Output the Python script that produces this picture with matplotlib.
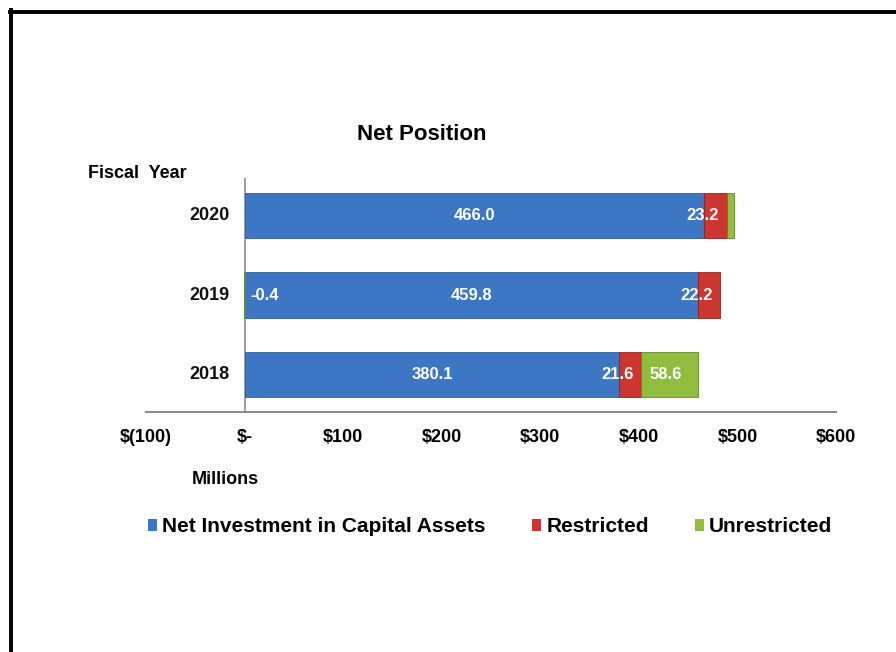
import matplotlib.pyplot as plt
from matplotlib.lines import Line2D
from matplotlib.patches import Patch

plt.rcParams['font.family'] = ['Liberation Sans', 'DejaVu Sans']
plt.rcParams['font.weight'] = 'bold'

years = ["2018", "2019", "2020"]
net_invest = [380.1, 459.8, 466.0]
restricted = [21.6, 22.2, 23.2]
unrestricted = [58.6, -0.4, 7.5]
unres_labels = ["58.6", "-0.4", ""]
xticks = [-100, 0, 100, 200, 300, 400, 500, 600]
xtick_labels = ["$(100)", "$-", "$100", "$200", "$300", "$400", "$500", "$600"]

blue = "#3D76C2"
red = "#CC3530"
green = "#8FBD3E"

fig = plt.figure(figsize=(8.96, 6.52), dpi=100)
ax = fig.add_axes([146/896, 240/652, 690/896, 234/652])

y = range(len(years))
h = 0.57
ax.barh(y, net_invest, height=h, color=blue, edgecolor="#2E5C9A", linewidth=0.6)
ax.barh(y, restricted, height=h, left=net_invest, color=red, edgecolor="#8E2220", linewidth=0.6)
left_u = [n + r if u > 0 else 0 for n, r, u in zip(net_invest, restricted, unrestricted)]
ax.barh(y, unrestricted, height=h, left=left_u, color=green, edgecolor="#5F8A22", linewidth=0.6)

lab = dict(color="white", fontsize=12, fontweight="bold", va="center", textcoords="offset points")
for i in y:
    ax.annotate(f"{net_invest[i]:.1f}", (net_invest[i] / 2, i), xytext=(0, 0), ha="center", **lab)
    ax.annotate(f"{restricted[i]:.1f}", (net_invest[i] + restricted[i] / 2, i), xytext=(-9, 0), ha="center", **lab)
    if unres_labels[i]:
        if unrestricted[i] < 0:
            ax.annotate(unres_labels[i], (0, i), xytext=(4, 0), ha="left", **lab)
        else:
            ax.annotate(unres_labels[i], (left_u[i] + unrestricted[i] / 2, i), xytext=(-3, 0), ha="center", **lab)
    # category labels sit next to the zero line
    ax.annotate(years[i], (0, i), xytext=(-11, 0), ha="right", va="center", textcoords="offset points",
                fontsize=13, fontweight="bold", color="#111111")

ax.set_xlim(-100, 600)
ax.set_ylim(-0.48, 2.48)
ax.set_xticks(xticks)
ax.set_xticklabels(xtick_labels, fontsize=13, fontweight="bold")
ax.tick_params(axis="x", length=0, pad=12)
ax.set_yticks([])
for s in ["top", "right", "left"]:
    ax.spines[s].set_visible(False)
ax.spines["bottom"].set_color("#8C8C8C")
ax.spines["bottom"].set_linewidth(1.5)
ax.axvline(0, color="#8C8C8C", linewidth=1.2, zorder=0)

fig.text(422/896, 1 - 135/652, "Net Position", ha="center", va="center", fontsize=16, fontweight="bold")
fig.text(88/896, 1 - 174/652, "Fiscal  Year", ha="left", va="center", fontsize=13, fontweight="bold")
fig.text(192/896, 1 - 479/652, "Millions", ha="left", va="center", fontsize=13, fontweight="bold")

handles = [Patch(facecolor=blue), Patch(facecolor=red), Patch(facecolor=green)]
fig.legend(handles, ["Net Investment in Capital Assets", "Restricted", "Unrestricted"],
           loc="center", bbox_to_anchor=(490/896, 1 - 527/652), ncol=3, frameon=False,
           fontsize=15, handlelength=0.45, handleheight=0.45, handletextpad=0.25, columnspacing=2.2,
           prop={"weight": "bold", "size": 15})

# frame around the picture
fig.add_artist(Line2D([10/896, 1], [1 - 11.5/652, 1 - 11.5/652], color="black", linewidth=2.8,
                      transform=fig.transFigure))
fig.add_artist(Line2D([11/896, 11/896], [0, 1 - 10/652], color="black", linewidth=2.8,
                      transform=fig.transFigure))

fig.savefig("out.png", dpi=100)
